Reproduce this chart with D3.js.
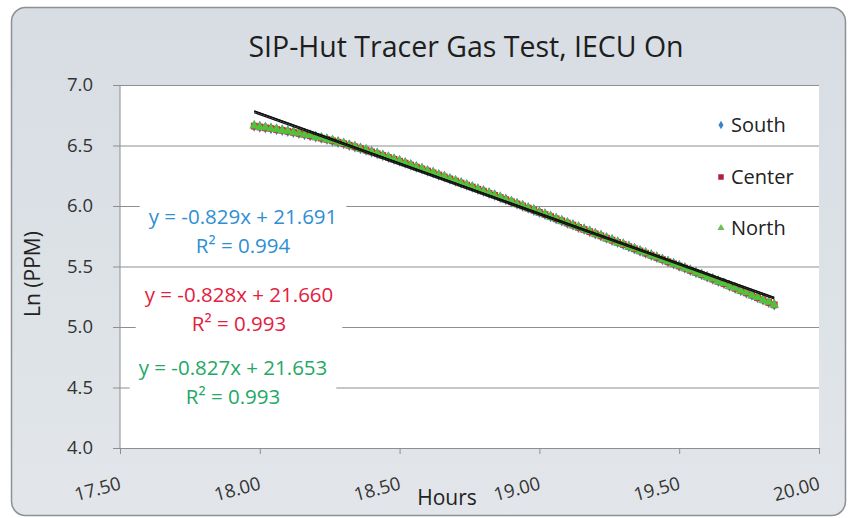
<!DOCTYPE html>
<meta charset="utf-8">
<style>
body { margin: 0; background: #fff; }
text { font-family: "Open Sans", "Noto Sans", sans-serif; }
.grid line { stroke: #8e8e8e; stroke-width: 1px; }
.grid path { display: none; }
.axis path, .axis line { stroke: #8e8e8e; stroke-width: 1px; }
.tick-label { font-size: 18.5px; fill: #333; }
</style>
<body>
<script src="https://cdn.jsdelivr.net/npm/d3@7"></script>
<script>
var width = 849,
    height = 518;

// hours since midnight
var hours = [
  17.98, 18.00, 18.02, 18.04, 18.06, 18.08, 18.10, 18.12, 18.14, 18.16,
  18.18, 18.20, 18.22, 18.24, 18.26, 18.28, 18.30, 18.32, 18.34, 18.36,
  18.38, 18.40, 18.42, 18.44, 18.46, 18.48, 18.50, 18.52, 18.54, 18.56,
  18.58, 18.60, 18.62, 18.64, 18.66, 18.68, 18.70, 18.72, 18.74, 18.76,
  18.78, 18.80, 18.82, 18.84, 18.86, 18.88, 18.90, 18.92, 18.94, 18.96,
  18.98, 19.00, 19.02, 19.04, 19.06, 19.08, 19.10, 19.12, 19.14, 19.16,
  19.18, 19.20, 19.22, 19.24, 19.26, 19.28, 19.30, 19.32, 19.34, 19.36,
  19.38, 19.40, 19.42, 19.44, 19.46, 19.48, 19.50, 19.52, 19.54, 19.56,
  19.58, 19.60, 19.62, 19.64, 19.66, 19.68, 19.70, 19.72, 19.74, 19.76,
  19.78, 19.80, 19.82, 19.84
];

var south = [
  6.662, 6.655, 6.648, 6.642, 6.634, 6.627, 6.619, 6.611, 6.602, 6.593,
  6.583, 6.573, 6.563, 6.552, 6.541, 6.529, 6.517, 6.504, 6.491, 6.477,
  6.463, 6.449, 6.434, 6.419, 6.403, 6.388, 6.372, 6.356, 6.340, 6.323,
  6.308, 6.291, 6.275, 6.258, 6.242, 6.225, 6.208, 6.191, 6.174, 6.158,
  6.140, 6.124, 6.106, 6.090, 6.072, 6.054, 6.037, 6.019, 6.002, 5.984,
  5.967, 5.949, 5.932, 5.914, 5.896, 5.879, 5.861, 5.844, 5.825, 5.808,
  5.790, 5.772, 5.755, 5.736, 5.719, 5.701, 5.684, 5.666, 5.648, 5.630,
  5.612, 5.595, 5.577, 5.559, 5.541, 5.524, 5.506, 5.489, 5.470, 5.452,
  5.434, 5.416, 5.398, 5.379, 5.361, 5.341, 5.322, 5.303, 5.284, 5.265,
  5.245, 5.226, 5.205, 5.185
];

var center = [
  6.660, 6.653, 6.646, 6.640, 6.632, 6.625, 6.617, 6.609, 6.600, 6.591,
  6.581, 6.571, 6.561, 6.550, 6.539, 6.527, 6.515, 6.502, 6.489, 6.475,
  6.461, 6.447, 6.432, 6.417, 6.401, 6.386, 6.370, 6.354, 6.338, 6.321,
  6.306, 6.289, 6.273, 6.256, 6.240, 6.223, 6.206, 6.189, 6.172, 6.156,
  6.138, 6.122, 6.104, 6.088, 6.070, 6.052, 6.035, 6.017, 6.000, 5.982,
  5.965, 5.947, 5.930, 5.912, 5.894, 5.877, 5.859, 5.842, 5.823, 5.806,
  5.788, 5.770, 5.753, 5.734, 5.717, 5.699, 5.682, 5.664, 5.646, 5.628,
  5.610, 5.593, 5.575, 5.557, 5.539, 5.522, 5.504, 5.487, 5.468, 5.450,
  5.432, 5.414, 5.396, 5.377, 5.359, 5.339, 5.320, 5.301, 5.282, 5.263,
  5.243, 5.224, 5.203, 5.183
];

var north = [
  6.663, 6.651, 6.649, 6.638, 6.635, 6.623, 6.620, 6.607, 6.603, 6.589,
  6.584, 6.569, 6.564, 6.548, 6.542, 6.525, 6.518, 6.500, 6.492, 6.473,
  6.464, 6.445, 6.435, 6.415, 6.404, 6.384, 6.373, 6.352, 6.341, 6.319,
  6.309, 6.287, 6.276, 6.254, 6.243, 6.221, 6.209, 6.187, 6.175, 6.154,
  6.141, 6.120, 6.107, 6.086, 6.073, 6.050, 6.038, 6.015, 6.003, 5.980,
  5.968, 5.945, 5.933, 5.910, 5.897, 5.875, 5.862, 5.840, 5.826, 5.804,
  5.791, 5.768, 5.756, 5.732, 5.720, 5.697, 5.685, 5.662, 5.649, 5.626,
  5.613, 5.591, 5.578, 5.555, 5.542, 5.520, 5.507, 5.485, 5.471, 5.448,
  5.435, 5.412, 5.399, 5.375, 5.362, 5.337, 5.323, 5.299, 5.285, 5.261,
  5.246, 5.222, 5.206, 5.181
];

var seriesNames = ['South', 'Center', 'North'];
var seriesValues = [south, center, north];
var slopes = [-0.829, -0.828, -0.827];
var intercepts = [21.691, 21.660, 21.653];
var rSquared = [0.994, 0.993, 0.993];

var xTicks = [17.5, 18.0, 18.5, 19.0, 19.5, 20.0];
var yTicks = [4.0, 4.5, 5.0, 5.5, 6.0, 6.5, 7.0];

var markerColors = ['#3f7fc4', '#e2262c', '#52c23e'];
var labelColors = ['#2f8fd3', '#e3203d', '#23a865'];
var legendColors = ['#3b82c8', '#b41e3c', '#6dbb5a'];

var plot = {left: 120, right: 819, top: 85, bottom: 448};

var x = d3.scaleLinear().domain([17.5, 20]).range([plot.left, plot.right]);
var y = d3.scaleLinear().domain([4, 7]).range([plot.bottom, plot.top]);

var svg = d3.select('body').append('svg')
    .attr('width', width)
    .attr('height', height);

var grad = svg.append('defs').append('linearGradient')
    .attr('id', 'bg').attr('x1', 0).attr('y1', 0).attr('x2', 0).attr('y2', 1);
grad.append('stop').attr('offset', '0%').attr('stop-color', '#d7dde3');
grad.append('stop').attr('offset', '100%').attr('stop-color', '#e2e6ea');

svg.append('rect')
    .attr('x', 11.5).attr('y', 7.5)
    .attr('width', 834).attr('height', 508)
    .attr('rx', 14)
    .attr('fill', 'url(#bg)')
    .attr('stroke', '#8d9196')
    .attr('stroke-width', 1.5);

svg.append('rect')
    .attr('x', plot.left).attr('y', plot.top)
    .attr('width', plot.right - plot.left)
    .attr('height', plot.bottom - plot.top)
    .attr('fill', '#fff');

// gridlines (they stick out a little to the left as tick marks)
svg.append('g')
    .attr('class', 'grid')
    .attr('transform', 'translate(' + plot.right + ',0)')
    .call(d3.axisLeft(y).tickValues(yTicks).tickSize(plot.right - plot.left + 7).tickFormat(''));

svg.append('line')
    .attr('x1', plot.left).attr('x2', plot.left)
    .attr('y1', plot.top).attr('y2', plot.bottom)
    .attr('stroke', '#8e8e8e');

svg.append('g').selectAll('text')
    .data(yTicks)
    .join('text')
    .attr('class', 'tick-label')
    .attr('x', 93)
    .attr('y', function(d) { return y(d); })
    .attr('dy', '0.35em')
    .attr('text-anchor', 'end')
    .text(d3.format('.1f'));

svg.append('g')
    .attr('class', 'axis')
    .attr('transform', 'translate(0,' + plot.bottom + ')')
    .call(d3.axisBottom(x).tickValues(xTicks).tickSize(6).tickSizeOuter(0).tickFormat(''));

svg.append('g').selectAll('text')
    .data(xTicks)
    .join('text')
    .attr('class', 'tick-label')
    .attr('text-anchor', 'end')
    .attr('transform', function(d) { return 'translate(' + (x(d) + 2) + ',489) rotate(-15)'; })
    .text(d3.format('.2f'));

svg.append('text')
    .attr('x', 447).attr('y', 505)
    .attr('text-anchor', 'middle')
    .style('font-size', '21px')
    .attr('fill', '#222')
    .text('Hours');

svg.append('text')
    .attr('transform', 'translate(40,274) rotate(-90)')
    .attr('text-anchor', 'middle')
    .style('font-size', '21px')
    .attr('fill', '#222')
    .text('Ln (PPM)');

svg.append('text')
    .attr('x', 466).attr('y', 57)
    .attr('text-anchor', 'middle')
    .style('font-size', '28.5px')
    .attr('fill', '#1e1e1e')
    .text('SIP-Hut Tracer Gas Test, IECU On');

// equation labels with white boxes hiding the gridlines
var eqPos = [[243, 217], [239, 295], [233, 368]];
var eqG = svg.append('g');
seriesNames.forEach(function(name, i) {
    var g = eqG.append('g');
    var box = g.append('rect').attr('fill', '#fff');
    var t1 = g.append('text')
        .attr('x', eqPos[i][0]).attr('y', eqPos[i][1])
        .attr('dy', '0.35em')
        .attr('text-anchor', 'middle')
        .style('font-size', '20.5px')
        .attr('fill', labelColors[i])
        .text('y = ' + slopes[i].toFixed(3) + 'x + ' + intercepts[i].toFixed(3));
    var t2 = g.append('text')
        .attr('x', eqPos[i][0]).attr('y', eqPos[i][1] + 29)
        .attr('dy', '0.35em')
        .attr('text-anchor', 'middle')
        .style('font-size', '20.5px')
        .attr('fill', labelColors[i])
        .text('R\u00b2 = ' + rSquared[i].toFixed(3));
    var b1 = t1.node().getBBox(), b2 = t2.node().getBBox();
    var x0 = Math.min(b1.x, b2.x) - 9, x1 = Math.max(b1.x + b1.width, b2.x + b2.width) + 9;
    box.attr('x', x0).attr('y', b1.y - 2)
        .attr('width', x1 - x0).attr('height', b2.y + b2.height - b1.y + 4);
});

var sym = [d3.symbolDiamond, d3.symbolSquare, d3.symbolTriangle];
var symSize = [40, 46, 40];

seriesValues.forEach(function(vals, i) {
    svg.append('g').selectAll('path')
        .data(vals)
        .join('path')
        .attr('transform', function(d, j) { return 'translate(' + x(hours[j]) + ',' + y(d) + ')'; })
        .attr('d', d3.symbol().type(sym[i]).size(symSize[i]))
        .attr('fill', markerColors[i]);
});

// linear trendlines
var xExtent = d3.extent(hours);
var line = d3.line()
    .x(function(d) { return x(d[0]); })
    .y(function(d) { return y(d[1]); });
slopes.forEach(function(m, i) {
    svg.append('path')
        .datum(xExtent.map(function(h) { return [h, m * h + intercepts[i]]; }))
        .attr('d', line)
        .attr('fill', 'none')
        .attr('stroke', '#111')
        .attr('stroke-width', 1.3);
});

// legend
var legendY = [125, 177, 228];
var legendSize = [22, 30, 22];
var legend = svg.append('g');
seriesNames.forEach(function(name, i) {
    legend.append('path')
        .attr('transform', 'translate(721,' + legendY[i] + ')')
        .attr('d', d3.symbol().type(sym[i]).size(legendSize[i]))
        .attr('fill', legendColors[i]);
    legend.append('text')
        .attr('x', 731).attr('y', legendY[i])
        .attr('dy', '0.35em')
        .style('font-size', '20px')
        .attr('fill', '#222')
        .text(name);
});
</script>
</body>
</html>
